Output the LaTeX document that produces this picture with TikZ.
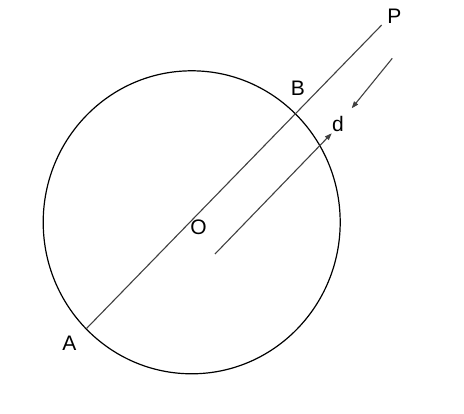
\documentclass[tikz,border=0pt]{standalone}
\usepackage{fontspec}
\setmainfont{Liberation Sans}
\usetikzlibrary{arrows.meta}
\begin{document}
\begin{tikzpicture}[x=1pt,y=-1pt,
  lbl/.style={font=\fontsize{21}{25}\selectfont, inner sep=0pt},
  thinline/.style={draw=black!75, line width=1.1pt},
  arr/.style={thinline, -{Triangle[length=7pt,width=5pt]}}]
\useasboundingbox (0,0) rectangle (464,414);
\draw[line width=1.2pt] (191.7,222.3) ellipse [x radius=148.5, y radius=151.5];
\coordinate (Aend) at (86.7,328.3);
\coordinate (Pend) at (381.7,25);
\coordinate (d0) at (215,254);
\coordinate (d1) at (331.7,133.3);
\coordinate (p0) at (392.3,58.3);
\coordinate (p1) at (351.7,108.3);
\draw[thinline] (Aend) -- (Pend);
\draw[arr] (d0) -- (d1);
\draw[arr] (p0) -- (p1);
\node[lbl] (P) at (394.3,16) {P};
\node[lbl] (B) at (298,88) {B};
\node[lbl] (d) at (338,124) {d};
\node[lbl] (O) at (198.5,227) {O};
\node[lbl] (A) at (69.5,343.5) {A};
\end{tikzpicture}
\end{document}
